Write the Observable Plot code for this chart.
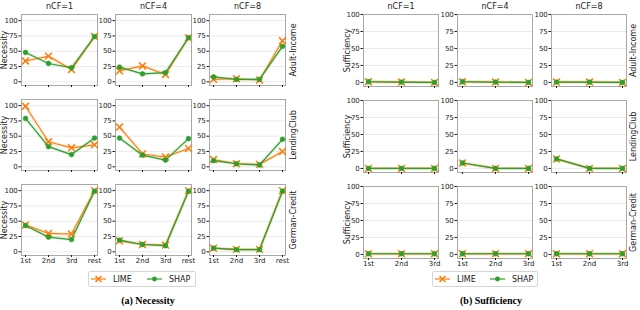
<!DOCTYPE html>
<html>
<head>
<meta charset="utf-8">
<script src="https://cdn.jsdelivr.net/npm/d3@7"></script>
<script src="https://cdn.jsdelivr.net/npm/@observablehq/plot@0.6"></script>
<style>
  body { margin: 0; background: white; }
  #wrap { position: relative; width: 640px; height: 310px; overflow: hidden; font-family: "DejaVu Sans", sans-serif; }
  .pl { position: absolute; top: 0; }
  .legend { position: absolute; border: 1px solid #d5d5d5; border-radius: 2px; background: white; box-sizing: border-box; }
  .legend svg { display: block; }
  .cap { position: absolute; top: 295px; font-family: "Liberation Serif", serif; font-weight: bold; font-size: 10px; transform: translateX(-50%); white-space: nowrap; }
</style>
</head>
<body>
<div id="wrap"></div>
<script>
const datasets = ["Adult-Income", "LendingClub", "German-Credit"];
const ncfs = ["nCF=1", "nCF=4", "nCF=8"];
const methods = ["LIME", "SHAP"];
const positionsNec = ["1st", "2nd", "3rd", "rest"];
const positionsSuf = ["1st", "2nd", "3rd"];
const yTicks = [0, 25, 50, 75, 100];

// Necessity: rows = nCF=1, nCF=4, nCF=8 ; columns = positions
const necLimeAdult   = [[34, 42, 20, 74], [18, 26, 12, 72], [4, 5, 3, 67]];
const necShapAdult   = [[48, 30, 23, 74], [24, 13, 15, 72], [8, 4, 4, 58]];
const necLimeLending = [[99, 41, 31, 36], [65, 21, 16, 30], [12, 5, 4, 25]];
const necShapLending = [[79, 33, 20, 47], [47, 19, 11, 46], [10, 5, 3, 45]];
const necLimeGerman  = [[44, 30, 29, 100], [18, 12, 11, 100], [6, 4, 4, 100]];
const necShapGerman  = [[43, 24, 20, 99], [19, 12, 10, 99], [6, 3.5, 3.5, 99]];

// Sufficiency
const sufLimeAdult   = [[1, 0.5, 0], [1, 0.5, 0], [0.5, 0.5, 0]];
const sufShapAdult   = [[1, 0.5, 0], [1, 0.5, 0], [0.5, 0.5, 0]];
const sufLimeLending = [[0, 0, 0], [8, 0, 0], [14, 0, 0]];
const sufShapLending = [[0, 0, 0], [8, 0, 0], [14, 0, 0]];
const sufLimeGerman  = [[1, 1, 1], [1, 1, 1], [1, 1, 1]];
const sufShapGerman  = [[1, 1, 1], [1, 1, 1], [1, 1, 1]];

const colors = {LIME: "#ff7f0e", SHAP: "#2ca02c"};

function build(tables, positions) {
  const rows = [];
  datasets.forEach((d, di) => {
    methods.forEach((m, mi) => {
      const t = tables[di][mi];
      ncfs.forEach((c, ci) => {
        positions.forEach((p, pi) => {
          rows.push({dataset: d, ncf: c, method: m, pos: p, value: t[ci][pi]});
        });
      });
    });
  });
  return rows;
}

const necData = build([[necLimeAdult, necShapAdult], [necLimeLending, necShapLending], [necLimeGerman, necShapGerman]], positionsNec);
const sufData = build([[sufLimeAdult, sufShapAdult], [sufLimeLending, sufShapLending], [sufLimeGerman, sufShapGerman]], positionsSuf);

function makePlot({data, positions, yLabel, yDomain, width, height, marginLeft, marginRight, marginBottom, fxPad, fyPad, xPad, yLabelDx, rowDx}) {
  const colTitles = ncfs.map(c => ({ncf: c, dataset: datasets[0]}));
  const rowTitles = datasets.map(d => ({ncf: ncfs[2], dataset: d}));
  const yTitles = datasets.map(d => ({ncf: ncfs[0], dataset: d}));
  const lime = data.filter(r => r.method === "LIME");
  const shap = data.filter(r => r.method === "SHAP");
  return Plot.plot({
    width, height,
    marginLeft, marginRight, marginTop: 14, marginBottom,
    style: {fontFamily: "DejaVu Sans", fontSize: "7px", background: "white", color: "#1a1a1a"},
    fx: {domain: ncfs, paddingInner: fxPad, paddingOuter: 0, axis: null},
    fy: {domain: datasets, paddingInner: fyPad, paddingOuter: 0, axis: null},
    x: {type: "point", domain: positions, padding: xPad},
    y: {domain: yDomain},
    marks: [
      Plot.gridY(yTicks, {stroke: "#e4e4e4", strokeOpacity: 1, strokeWidth: 0.8, facetAnchor: null}),
      Plot.frame({stroke: "#a8a8a8", strokeWidth: 1}),
      Plot.axisY({ticks: yTicks, tickSize: 2.5, tickPadding: 1.2, label: null, facetAnchor: null, fontSize: 7}),
      Plot.axisX({tickSize: 2, tickFormat: () => "", label: null, facetAnchor: null}),
      Plot.axisX({tickSize: 2, tickPadding: 0.5, label: null, fontSize: 7}),
      Plot.line(lime, {x: "pos", y: "value", fx: "ncf", fy: "dataset", stroke: colors.LIME, strokeWidth: 3, strokeOpacity: 0.15}),
      Plot.line(shap, {x: "pos", y: "value", fx: "ncf", fy: "dataset", stroke: colors.SHAP, strokeWidth: 3, strokeOpacity: 0.15}),
      Plot.line(lime, {x: "pos", y: "value", fx: "ncf", fy: "dataset", stroke: colors.LIME, strokeWidth: 1.2}),
      Plot.dot(lime, {x: "pos", y: "value", fx: "ncf", fy: "dataset", symbol: "times", r: 3.2, stroke: colors.LIME, strokeWidth: 1.6}),
      Plot.line(shap, {x: "pos", y: "value", fx: "ncf", fy: "dataset", stroke: colors.SHAP, strokeWidth: 1.2}),
      Plot.dot(shap, {x: "pos", y: "value", fx: "ncf", fy: "dataset", r: 2.4, fill: colors.SHAP, stroke: colors.SHAP, strokeWidth: 0.6}),
      Plot.text(colTitles, {fx: "ncf", fy: "dataset", text: "ncf", frameAnchor: "top", lineAnchor: "middle", dy: -8.5, fontSize: 8}),
      Plot.text(rowTitles, {fx: "ncf", fy: "dataset", text: "dataset", frameAnchor: "right", lineAnchor: "middle", textAnchor: "middle", rotate: -90, dx: rowDx, fontSize: 8}),
      Plot.text(yTitles, {fx: "ncf", fy: "dataset", text: () => yLabel, frameAnchor: "left", lineAnchor: "middle", textAnchor: "middle", rotate: -90, dx: yLabelDx, fontSize: 8})
    ]
  });
}

const wrap = document.getElementById("wrap");

const nec = makePlot({data: necData, positions: positionsNec, yLabel: "Necessity", yDomain: [-6, 110],
  width: 320, height: 266, marginLeft: 21, marginRight: 34, marginBottom: 11,
  fxPad: 0.19, fyPad: 0.165, xPad: 0.1, yLabelDx: -17, rowDx: 7.5});
nec.classList.add("pl"); nec.style.left = "0px";
wrap.appendChild(nec);

const suf = makePlot({data: sufData, positions: positionsSuf, yLabel: "Sufficiency", yDomain: [-6, 100],
  width: 320, height: 268, marginLeft: 43, marginRight: 13, marginBottom: 10,
  fxPad: 0.2, fyPad: 0.163, xPad: 0.12, yLabelDx: -16, rowDx: 6.5});
suf.classList.add("pl"); suf.style.left = "320px";
wrap.appendChild(suf);

function legend(left, top, w, items) {
  const div = document.createElement("div");
  div.className = "legend";
  div.style.left = left + "px"; div.style.top = top + "px";
  div.style.width = w + "px"; div.style.height = "16px";
  const ns = "http://www.w3.org/2000/svg";
  const svg = document.createElementNS(ns, "svg");
  svg.setAttribute("width", w - 2); svg.setAttribute("height", 14);
  items.forEach(it => {
    const c = colors[it.m];
    const ln = document.createElementNS(ns, "line");
    ln.setAttribute("x1", it.x); ln.setAttribute("x2", it.x + 15);
    ln.setAttribute("y1", 7); ln.setAttribute("y2", 7);
    ln.setAttribute("stroke", c); ln.setAttribute("stroke-width", 1.2);
    svg.appendChild(ln);
    const cx = it.x + 7.5;
    if (it.m === "LIME") {
      const p = document.createElementNS(ns, "path");
      p.setAttribute("d", `M${cx-3},4L${cx+3},10M${cx-3},10L${cx+3},4`);
      p.setAttribute("stroke", c); p.setAttribute("stroke-width", 1.6);
      svg.appendChild(p);
    } else {
      const ci = document.createElementNS(ns, "circle");
      ci.setAttribute("cx", cx); ci.setAttribute("cy", 7); ci.setAttribute("r", 2.4);
      ci.setAttribute("fill", c);
      svg.appendChild(ci);
    }
    const t = document.createElementNS(ns, "text");
    t.setAttribute("x", it.x + 22); t.setAttribute("y", 7);
    t.setAttribute("dy", "0.35em");
    t.setAttribute("font-size", "8px");
    t.setAttribute("font-family", "DejaVu Sans");
    t.setAttribute("fill", "#1a1a1a");
    t.textContent = it.m;
    svg.appendChild(t);
  });
  div.appendChild(svg);
  wrap.appendChild(div);
}
legend(88, 271, 108, [{m: "LIME", x: 2}, {m: "SHAP", x: 58}]);
legend(432, 271, 106, [{m: "LIME", x: 2}, {m: "SHAP", x: 57}]);

function caption(x, text) {
  const d = document.createElement("div");
  d.className = "cap"; d.style.left = x + "px"; d.textContent = text;
  wrap.appendChild(d);
}
caption(148, "(a) Necessity");
caption(491, "(b) Sufficiency");
</script>
</body>
</html>
